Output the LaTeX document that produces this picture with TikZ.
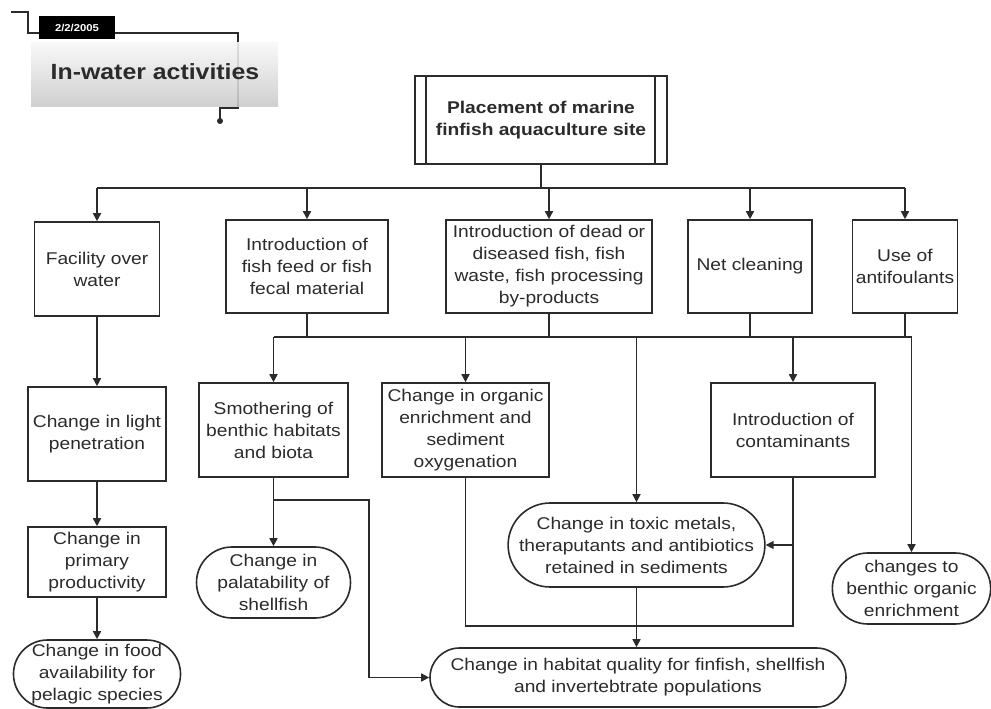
\documentclass[tikz,border=0pt]{standalone}
\usepackage{fontspec}
\setmainfont{Liberation Sans}[FakeStretch=1.13]
\usetikzlibrary{arrows.meta,shapes.misc}
\definecolor{ink}{HTML}{2B2B2B}
\begin{document}
\begin{tikzpicture}[x=1pt,y=-1pt,
  every node/.style={font=\fontsize{17}{22}\selectfont, align=center, inner sep=0pt, text=ink},
  procbox/.style={draw=ink, line width=1.6pt, fill=white, rectangle},
  termbox/.style={draw=ink, line width=1.6pt, fill=white, rounded rectangle},
  conn/.style={draw=ink, line width=1.6pt},
  arr/.style={conn, -{Triangle[length=8pt,width=8pt]}}
]
\useasboundingbox (0,0) rectangle (991,709);

% --- title block ---
\coordinate (t0) at (11,12);
\coordinate (t1) at (220,121);
\draw[conn, line width=1.4pt] (t0) -- (28,12) -- (28,33) -- (238,33) -- (238,108) -- (220,108) -- (t1);
\fill[ink] (t1) circle (3pt);
\shade[top color=gray!6, bottom color=gray!42, fill opacity=0.88] (31,43) rectangle (278,106);
\node[fill=black, text=white, font=\bfseries\fontsize{10}{12}\selectfont,
      minimum width=76, minimum height=23] (date) at (77,27.5) {2/2/2005};
\node[font=\bfseries\fontsize{22}{26}\selectfont] (title) at (155,72) {In-water activities};

% --- top level ---
\node[procbox, minimum width=252, minimum height=88, font=\bfseries\fontsize{17}{22}\selectfont]
  (place) at (541,120) {Placement of marine\\finfish aquaculture site};
\draw[conn] ([xshift=12pt]place.north west) -- ([xshift=12pt]place.south west);
\draw[conn] ([xshift=-13pt]place.north east) -- ([xshift=-13pt]place.south east);

% --- activities ---
\node[procbox, minimum width=125, minimum height=94] (fac)  at (97,269)    {Facility over\\water};
\node[procbox, minimum width=162, minimum height=93] (feed) at (307,266.5) {Introduction of\\fish feed or fish\\fecal material};
\node[procbox, minimum width=206, minimum height=93] (dead) at (549,266.5) {Introduction of dead or\\diseased fish, fish\\waste, fish processing\\by-products};
\node[procbox, minimum width=124, minimum height=93] (net)  at (750,266.5) {Net cleaning};
\node[procbox, minimum width=105, minimum height=93] (anti) at (905,266.5) {Use of\\antifoulants};

% --- effects ---
\node[procbox, minimum width=138, minimum height=94] (light) at (97,434)    {Change in light\\penetration};
\node[procbox, minimum width=138, minimum height=70] (prim)  at (97,562)    {Change in\\primary\\productivity};
\node[termbox, minimum width=165, minimum height=68] (food)  at (97,674)    {Change in food\\availability for\\pelagic species};
\node[procbox, minimum width=149, minimum height=94] (smo)   at (273.5,430) {Smothering of\\benthic habitats\\and biota};
\node[termbox, minimum width=154, minimum height=71] (pal)   at (273.5,582.5) {Change in\\palatability of\\shellfish};
\node[procbox, minimum width=167, minimum height=94] (org)   at (465.5,430) {Change in organic\\enrichment and\\sediment\\oxygenation};
\node[procbox, minimum width=164, minimum height=94] (cont)  at (793,430)   {Introduction of\\contaminants};
\node[termbox, minimum width=249, minimum height=84] (tox)   at (636.5,545) {Change in toxic metals,\\theraputants and antibiotics\\retained in sediments};
\node[termbox, minimum width=416, minimum height=59] (hab)   at (638,677.5) {Change in habitat quality for finfish, shellfish\\and invertebtrate populations};
\node[termbox, minimum width=151, minimum height=71] (ben)   at (911.5,588.5) {changes to\\benthic organic\\enrichment};

% --- upper distribution ---
\coordinate (tb) at (541,188);
\draw[conn] (place.south) -- (tb);
\draw[conn] (fac.north |- tb) -- (anti.north |- tb);
\foreach \n in {fac,feed,dead,net,anti}
  \draw[arr] (\n.north |- tb) -- (\n.north);

% --- lower distribution ---
\coordinate (lb) at (0,337);
\foreach \n in {feed,dead,net,anti}
  \draw[conn] (\n.south) -- (\n.south |- lb);
\draw[conn] (smo.north |- lb) -- (ben.north |- lb);
\foreach \n in {smo,org,cont,ben}
  \draw[arr] (\n.north |- lb) -- (\n.north);
\draw[arr] (tox.north |- lb) -- (tox.north);

% --- left chain ---
\draw[arr] (fac.south) -- (light.north);
\draw[arr] (light.south) -- (prim.north);
\draw[arr] (prim.south) -- (food.north);

% --- smothering ---
\draw[arr] (smo.south) -- (pal.north);
\coordinate (sbr) at (369,500);
\draw[arr] (smo.south |- sbr) -- (sbr) |- (hab.west);

% --- enrichment and contaminants ---
\coordinate (lo) at (0,626);
\draw[conn] (org.south) -- (org.south |- lo) -| (cont.south);
\draw[arr] (cont.south |- tox.east) -- (tox.east);
\draw[arr] (tox.south) -- (tox.south |- hab.north);
\end{tikzpicture}
\end{document}
